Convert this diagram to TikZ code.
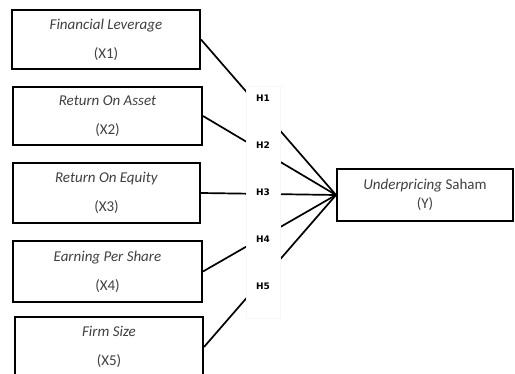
\documentclass[tikz,border=0pt]{standalone}
\usepackage{fontspec}
\setmainfont{Carlito}
\newfontfamily\hypfont{DejaVu Sans}
\usepackage{xcolor}
\definecolor{txtgray}{RGB}{64,64,64}
\definecolor{colgray}{RGB}{246,246,246}
\usetikzlibrary{positioning}

\begin{document}
\begin{tikzpicture}[x=1pt,y=-1pt,
  varbox/.style={draw,line width=2pt,minimum width=188pt,minimum height=59pt,inner sep=0pt,
    align=center,text=txtgray,font=\fontsize{15}{29}\selectfont},
  hyp/.style={font=\hypfont\bfseries\fontsize{9}{10}\selectfont,inner sep=1pt},
  link/.style={line width=1.7pt}]
  \useasboundingbox[fill=white] (0,0) rectangle (515,374);
  % Independent variables
  \node[varbox] (x1) at (106,39.5) {\textit{Financial Leverage}\\(X1)};
  \node[varbox,minimum width=189pt,minimum height=58pt] (x2) at (107.5,116) {\textit{Return On Asset}\\(X2)};
  \node[varbox,minimum width=187pt,minimum height=60pt] (x3) at (106.5,193) {\textit{Return On Equity}\\(X3)};
  \node[varbox,minimum width=189pt,minimum height=61pt] (x4) at (107.5,271.5) {\textit{Earning Per Share}\\(X4)};
  \node[varbox,minimum width=188pt,minimum height=60pt] (x5) at (109,347) {\textit{Firm Size}\\(X5)};
  % Dependent variable
  \node[varbox,minimum width=176pt,minimum height=52pt,font=\fontsize{15}{19}\selectfont] (y) at (425,195) {\textit{Underpricing} Saham\\(Y)};
  % Paths
  \draw[link] (x1.east) -- (y.west);
  \draw[link] (x2.east) -- (y.west);
  \draw[link] (x3.east) -- (y.west);
  \draw[link] (x4.east) -- (y.west);
  \draw[link] (x5.east) -- (y.west);
  % Hypothesis labels
  \node[draw=colgray,fill=white,line width=0.5pt,minimum width=34pt,minimum height=232pt] (hcol) at (263,202) {};
  \node[hyp] (h1) at (263,98) {H1};
  \node[hyp] (h2) at (263,145) {H2};
  \node[hyp] (h3) at (263,192) {H3};
  \node[hyp] (h4) at (263,239) {H4};
  \node[hyp] (h5) at (263,286) {H5};
\end{tikzpicture}
\end{document}
